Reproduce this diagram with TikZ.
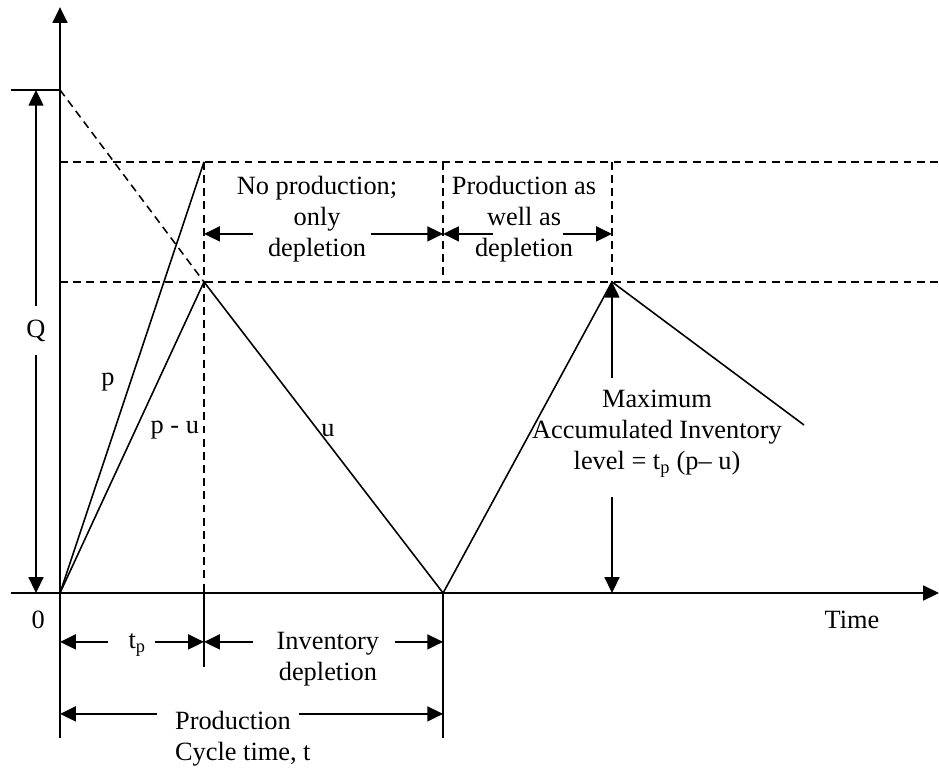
\documentclass[tikz,border=0pt]{standalone}
\usepackage{fontspec}
\setmainfont{Liberation Serif}
\usetikzlibrary{arrows.meta}

\begin{document}
\begin{tikzpicture}[
  >={Triangle[length=15pt,width=14pt]},
  axis/.style={line width=2.2pt},
  curve/.style={line width=1.5pt},
  guide/.style={line width=1.5pt, dash pattern=on 7.5pt off 5pt},
  dim/.style={line width=2.2pt},
  lbl/.style={font=\fontsize{25}{29.4}\selectfont, inner sep=0pt, align=center}
]
\useasboundingbox (-2,-5.833) rectangle (29.3,19.767);

% inventory curve
\coordinate (O) at (0,0);
\coordinate (Q) at (0,16.77);
\coordinate (A) at (4.8,14.37);
\coordinate (B) at (4.8,10.37);
\coordinate (C) at (12.77,0);
\coordinate (D) at (18.4,10.37);
\coordinate (E) at (24.8,5.6);

% axes
\coordinate (ytop) at (0,19.53);
\coordinate (ybot) at (0,-4.83);
\coordinate (xleft) at (-1.63,0);
\coordinate (xright) at (29.3,0);
\draw[axis,->] (ybot) -- (ytop);
\draw[axis,->] (xleft) -- (xright);
\draw[curve] (-1.63,16.77) -- (Q);

% guide lines
\draw[guide] (Q) -- (B);
\draw[guide] (A -| O) -- (29.3,14.37);
\draw[guide] (B -| O) -- (29.3,10.37);
\draw[guide] (A) -- (B |- O);
\draw[guide] (12.77,14.37) -- (C |- B);
\draw[guide] (18.4,14.37) -- (D);

\draw[curve] (O) -- (A);
\draw[curve] (O) -- (B) -- (C) -- (D) -- (E);

% ticks below the axis
\draw[axis] (B |- O) -- (4.8,-2.47);
\draw[axis] (C) -- (12.77,-4.83);

% labels
\node[lbl] (zero) at (-0.73,-0.9) {0};
\node[lbl] (time) at (26.4,-0.9) {Time};
\node[lbl] (lp) at (1.6,7.03) {p};
\node[lbl] (lpu) at (3.83,5.43) {p - u};
\node[lbl] (lu) at (8.93,5.43) {u};
\node[lbl, minimum height=1.6cm] (lq) at (-0.8,8.75) {Q};
\node[lbl] (noprod) at (8.57,12.47) {No production;\\only\\depletion};
\node[lbl] (aswell) at (15.47,12.47) {Production as\\well as\\depletion};
\node[lbl] (maxinv) at (19.9,5.3) {Maximum\\Accumulated Inventory\\level = t\textsubscript{p} (p-- u)};
\node[lbl] (tp) at (2.57,-1.73) {t\textsubscript{p}};
\node[lbl] (invdep) at (8.93,-2.22) {Inventory\\depletion};
\node[lbl, align=left, anchor=west] (cycle) at (3.83,-4.87) {Production\\Cycle time, t};

% dimension arrows
\draw[dim,->] (lq.north) -- (lq.north |- Q);
\draw[dim,->] (lq.south) -- (lq.south |- O);
\coordinate (m1) at (18.4,7.17);
\coordinate (m2) at (18.4,3.2);
\draw[dim,->] (m1) -- (D);
\draw[dim,->] (m2) -- (D |- O);

\coordinate (n0) at (4.8,11.97);  \coordinate (n1) at (6.43,11.97);
\coordinate (n2) at (10.37,11.97); \coordinate (n3) at (12.77,11.97);
\coordinate (w1) at (14.43,11.97); \coordinate (w2) at (16.77,11.97);
\coordinate (w3) at (18.4,11.97);
\coordinate (t0) at (0,-1.63);    \coordinate (t1) at (1.6,-1.63);
\coordinate (t2) at (3.17,-1.63); \coordinate (t3) at (4.8,-1.63);
\coordinate (i1) at (6.43,-1.63); \coordinate (i2) at (11.17,-1.63);
\coordinate (i3) at (12.77,-1.63);
\coordinate (c0) at (0,-4.03);    \coordinate (c1) at (3.23,-4.03);
\coordinate (c2) at (7.97,-4.03); \coordinate (c3) at (12.77,-4.03);
\foreach \a/\b in {n1/n0, n2/n3, w1/n3, w2/w3, t1/t0, t2/t3, i1/t3, i2/i3, c1/c0, c2/c3}
  \draw[dim,->] (\a) -- (\b);
\end{tikzpicture}
\end{document}
